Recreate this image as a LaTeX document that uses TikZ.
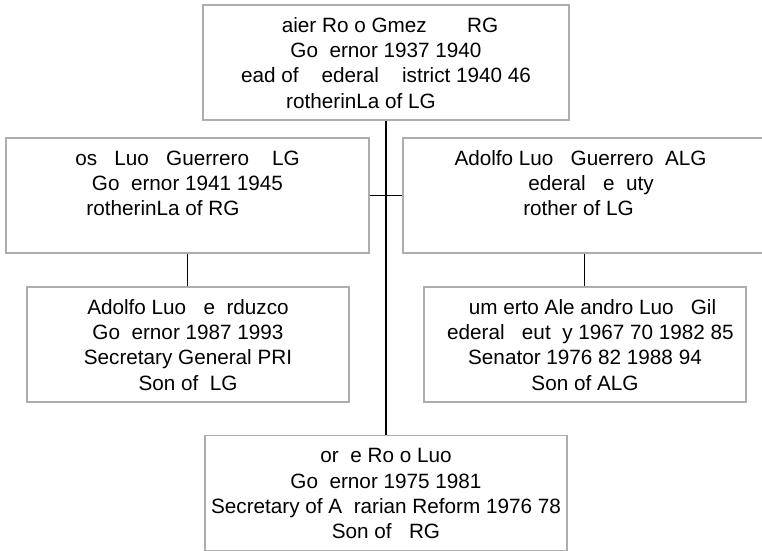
\documentclass[tikz,border=0pt]{standalone}
\usepackage{fontspec}
\setmainfont{Liberation Sans}
\usetikzlibrary{calc}

\begin{document}
\begin{tikzpicture}[x=1pt,y=-1pt,
	person/.style={draw=black!32,line width=1.5pt,anchor=north,align=center,
		inner sep=0pt,minimum height=115pt,text height=92pt,text depth=0pt,
		font=\fontsize{20.7}{25.3}\selectfont},
	link/.style={draw=black,line width=1.2pt}]
	\useasboundingbox (0,0) rectangle (762,550);
	\clip (0,0) rectangle (762,550);

	\node[person,minimum width=366pt] (jrg) at (386,4)
	{\mbox{\hspace{8pt}aier Ro~o Gmez~~~~~~~RG}\\
	Go~~ernor 1937 1940\\
	ead of~~~~ederal~~~~istrict 1940 46\\
	\mbox{rotherinLa of LG\hspace{50pt}}};

	\node[person,minimum width=363pt] (jlg) at (187.5,137)
	{os~~~Luo~~~Guerrero~~~~LG\\
	Go~~ernor 1941 1945\\
	\mbox{rotherinLa of RG\hspace{49pt}}\\
	~};

	\node[person,minimum width=363pt] (alg) at (584.5,137)
	{\mbox{Adolfo Luo~~~Guerrero~~ALG\hspace{8pt}}\\
	\mbox{\hspace{13pt}ederal~~~e~~uty}\\
	\mbox{rother of LG\hspace{12pt}}\\
	~};

	\node[person,minimum width=322pt] (alm) at (188,286)
	{Adolfo Luo~~~e~~rduzco\\
	Go~~ernor 1987 1993\\
	Secretary General PRI\\
	Son of~~LG};

	\node[person,minimum width=322pt] (hlg) at (585,286)
	{\mbox{\hspace{15pt}um~erto Ale~andro Luo~~~Gil}\\
	\mbox{\hspace{11pt}ederal~~~eut~~y 1967 70 1982 85}\\
	Senator 1976 82 1988 94\\
	Son of ALG};

	\node[person,minimum width=362pt] (jrl) at (386,434.5)
	{or~~e Ro~o Luo\\
	Go~~ernor 1975 1981\\
	Secretary of A~~rarian Reform 1976 78\\
	Son of~~~RG};

	\draw[link] (jrg.south) -- (jrl.north);
	\draw[link] (jlg.east) -- (alg.west);
	\draw[link] (jlg.south) -- (jlg.south |- alm.north);
	\draw[link] (alg.south) -- (alg.south |- hlg.north);
\end{tikzpicture}
\end{document}
